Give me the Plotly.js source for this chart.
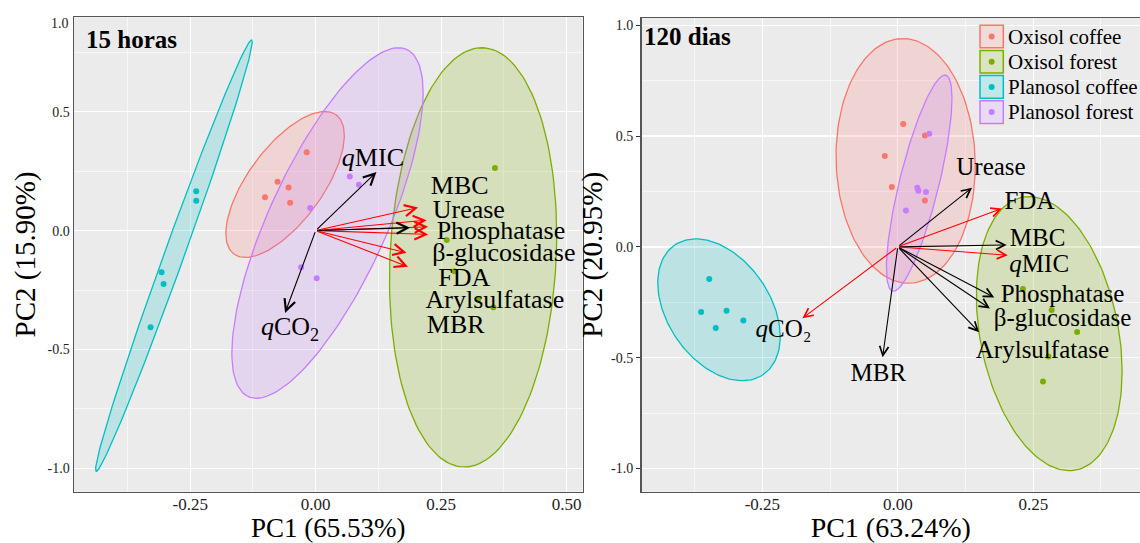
<!DOCTYPE html>
<html>
<head>
<meta charset="utf-8">
<script src="https://cdn.plot.ly/plotly-3.0.1.min.js"></script>
<style>html,body{margin:0;padding:0;background:#fff;}#chart{width:1140px;height:543px;}</style>
</head>
<body>
<div id="chart"></div>
<script>
// ---------- groups ----------
var groups = ['Oxisol coffee', 'Oxisol forest', 'Planosol coffee', 'Planosol forest'];

// ---------- 15 horas : PCA scores ----------
var h15_oxCoffee_pc1 = [-0.018, -0.076, -0.054, -0.101, -0.051];
var h15_oxCoffee_pc2 = [0.329, 0.205, 0.181, 0.140, 0.117];
var h15_oxForest_pc1 = [0.357, 0.261, 0.276, 0.324, 0.354];
var h15_oxForest_pc2 = [0.263, -0.039, -0.171, -0.288, -0.322];
var h15_plCoffee_pc1 = [-0.238, -0.238, -0.307, -0.303, -0.329];
var h15_plCoffee_pc2 = [0.165, 0.126, -0.175, -0.225, -0.406];
var h15_plForest_pc1 = [0.068, 0.086, -0.011, -0.029, 0.002];
var h15_plForest_pc2 = [0.227, 0.193, 0.095, -0.154, -0.200];

// 15 horas ellipses (centre, half-extent along PC1 / PC2, correlation), one per group
var h15_ell_cx = [-0.061, 0.3135, -0.2825, 0.0235];
var h15_ell_cy = [0.194, -0.1125, -0.1055, 0.032];
var h15_ell_hx = [0.118, 0.1665, 0.156, 0.1905];
var h15_ell_hy = [0.307, 0.8815, 0.907, 0.737];
var h15_ell_r  = [0.67, 0.105, 0.991, 0.743];

// 15 horas loadings (arrows)
var h15_vars     = ['MBC', 'Urease', 'Phosphatase', 'β-glucosidase', 'FDA', 'Arylsulfatase', 'MBR', 'qMIC', 'qCO2'];
var h15_load_pc1 = [0.204, 0.221, 0.224, 0.224, 0.188, 0.181, 0.184, 0.121, -0.061];
var h15_load_pc2 = [0.097, 0.044, 0.016, -0.016, 0.012, -0.093, -0.152, 0.246, -0.346];
var h15_sig      = [true, true, true, true, false, true, true, false, false];
// 15 horas variable labels
var h15_labels   = ['MBC', 'Urease', 'Phosphatase', 'β-glucosidase', 'FDA', 'Arylsulfatase', 'MBR', '<i>q</i>MIC', '<i>q</i>CO<sub>2</sub>'];
var h15_lab_pc1  = [0.287, 0.305, 0.369, 0.375, 0.296, 0.357, 0.279, 0.114, -0.051];
var h15_lab_pc2  = [0.183, 0.082, -0.010, -0.102, -0.205, -0.300, -0.402, 0.301, -0.412];

// ---------- 120 dias : PCA scores ----------
var d120_oxCoffee_pc1 = [0.010, 0.050, -0.024, -0.011, 0.050];
var d120_oxCoffee_pc2 = [0.555, 0.503, 0.410, 0.270, 0.209];
var d120_oxForest_pc1 = [0.231, 0.284, 0.331, 0.278, 0.268];
var d120_oxForest_pc2 = [-0.190, -0.285, -0.384, -0.495, -0.608];
var d120_plCoffee_pc1 = [-0.348, -0.363, -0.316, -0.336, -0.285];
var d120_plCoffee_pc2 = [-0.145, -0.294, -0.288, -0.366, -0.332];
var d120_plForest_pc1 = [0.058, 0.036, 0.038, 0.052, 0.015];
var d120_plForest_pc2 = [0.511, 0.267, 0.253, 0.248, 0.164];

var d120_ell_cx = [0.0145, 0.2795, -0.330, 0.0395];
var d120_ell_cy = [0.388, -0.3915, -0.284, 0.2875];
var d120_ell_hx = [0.1285, 0.1345, 0.113, 0.0605];
var d120_ell_hy = [0.552, 0.6185, 0.320, 0.4875];
var d120_ell_r  = [-0.04, -0.275, -0.38, 0.785];

var d120_vars     = ['Urease', 'FDA', 'MBC', 'qMIC', 'Phosphatase', 'β-glucosidase', 'Arylsulfatase', 'MBR', 'qCO2'];
var d120_load_pc1 = [0.137, 0.192, 0.201, 0.203, 0.178, 0.170, 0.150, -0.028, -0.176];
var d120_load_pc2 = [0.267, 0.173, 0.009, -0.038, -0.228, -0.278, -0.385, -0.498, -0.322];
var d120_sig      = [false, true, false, true, false, false, false, false, true];
var d120_labels   = ['Urease', 'FDA', 'MBC', '<i>q</i>MIC', 'Phosphatase', 'β-glucosidase', 'Arylsulfatase', 'MBR', '<i>q</i>CO₂'];
var d120_lab_pc1  = [0.172, 0.243, 0.258, 0.261, 0.304, 0.304, 0.267, -0.036, -0.211];
var d120_lab_pc2  = [0.351, 0.198, 0.033, -0.085, -0.220, -0.330, -0.472, -0.577, -0.377];

// ---------- ticks ----------
var h15_xtick_vals = [-0.25, 0, 0.25, 0.5];
var h15_xtick_text = ['-0.25', '0.00', '0.25', '0.50'];
var h15_ytick_vals = [-1, -0.5, 0, 0.5];
var h15_ytick_text = ['-1.0', '-0.5', '0.0', '0.5'];
var h15_top_label = '1.0';
var h15_top_label_pos = 0.871;
var d120_xtick_vals = [-0.25, 0, 0.25];
var d120_xtick_text = ['-0.25', '0.00', '0.25'];
var d120_ytick_vals = [-1, -0.5, 0, 0.5, 1];
var d120_ytick_text = ['-1.0', '-0.5', '0.0', '0.5', '1.0'];

// ---------- styling ----------
var colors = ['#F8766D', '#7CAE00', '#00BFC4', '#C77CFF'];
var SERIF = 'Liberation Serif, Times New Roman, serif';
var W = 1140, H = 543;

function rgba(hex, a) {
  var n = parseInt(hex.slice(1), 16);
  return 'rgba(' + ((n >> 16) & 255) + ',' + ((n >> 8) & 255) + ',' + (n & 255) + ',' + a + ')';
}
function ellipse(cx, cy, hx, hy, r) {
  var xs = [], ys = [], s = Math.sqrt(1 - r * r);
  for (var i = 0; i <= 160; i++) {
    var t = 2 * Math.PI * i / 160;
    xs.push(cx + hx * Math.cos(t));
    ys.push(cy + hy * (r * Math.cos(t) + s * Math.sin(t)));
  }
  return {x: xs, y: ys};
}

var traces = [];
function addPanel(xa, ya, ell, scores, lab, labSize) {
  for (var g = 0; g < 4; g++) {
    var e = ellipse(ell.cx[g], ell.cy[g], ell.hx[g], ell.hy[g], ell.r[g]);
    traces.push({type: 'scatter', mode: 'lines', x: e.x, y: e.y, xaxis: xa, yaxis: ya,
      fill: 'toself', fillcolor: rgba(colors[g], 0.2), line: {color: colors[g], width: 1.3},
      hoverinfo: 'skip', showlegend: false, name: groups[g]});
  }
  for (var g2 = 0; g2 < 4; g2++) {
    traces.push({type: 'scatter', mode: 'markers', x: scores[g2][0], y: scores[g2][1], xaxis: xa, yaxis: ya,
      marker: {color: colors[g2], size: 6}, showlegend: false, name: groups[g2]});
  }
  traces.push({type: 'scatter', mode: 'text', x: lab.x, y: lab.y, text: lab.text, xaxis: xa, yaxis: ya,
    textposition: 'middle center', textfont: {family: SERIF, size: labSize, color: '#000'},
    hoverinfo: 'skip', showlegend: false});
}

addPanel('x', 'y',
  {cx: h15_ell_cx, cy: h15_ell_cy, hx: h15_ell_hx, hy: h15_ell_hy, r: h15_ell_r},
  [[h15_oxCoffee_pc1, h15_oxCoffee_pc2], [h15_oxForest_pc1, h15_oxForest_pc2],
   [h15_plCoffee_pc1, h15_plCoffee_pc2], [h15_plForest_pc1, h15_plForest_pc2]],
  {x: h15_lab_pc1, y: h15_lab_pc2, text: h15_labels}, 26);
addPanel('x2', 'y2',
  {cx: d120_ell_cx, cy: d120_ell_cy, hx: d120_ell_hx, hy: d120_ell_hy, r: d120_ell_r},
  [[d120_oxCoffee_pc1, d120_oxCoffee_pc2], [d120_oxForest_pc1, d120_oxForest_pc2],
   [d120_plCoffee_pc1, d120_plCoffee_pc2], [d120_plForest_pc1, d120_plForest_pc2]],
  {x: d120_lab_pc1, y: d120_lab_pc2, text: d120_labels}, 25);

var annotations = [];
function addArrows(xs, ys, sig, xr, yr, size) {
  for (var i = 0; i < xs.length; i++) {
    annotations.push({x: xs[i], y: ys[i], ax: 0, ay: 0, xref: xr, yref: yr, axref: xr, ayref: yr,
      text: '', showarrow: true, arrowhead: 5, arrowsize: size, arrowwidth: 1.1,
      arrowcolor: sig[i] ? '#FF0000' : '#000000', standoff: 0, startstandoff: 0});
  }
}
addArrows(h15_load_pc1, h15_load_pc2, h15_sig, 'x', 'y', 2.0);
addArrows(d120_load_pc1, d120_load_pc2, d120_sig, 'x2', 'y2', 1.6);

// panel titles
annotations.push({text: '<b>15 horas</b>', xref: 'paper', yref: 'paper', x: 84 / W, y: 1 - 39 / H,
  xanchor: 'left', yanchor: 'middle', showarrow: false, font: {family: SERIF, size: 25, color: '#000'}});
annotations.push({text: '<b>120 dias</b>', xref: 'paper', yref: 'paper', x: 642 / W, y: 1 - 36 / H,
  xanchor: 'left', yanchor: 'middle', showarrow: false, font: {family: SERIF, size: 25, color: '#000'}});
// top tick label of the left panel as drawn in the figure
annotations.push({text: h15_top_label, xref: 'paper', yref: 'y', x: 71 / W, y: h15_top_label_pos,
  xanchor: 'right', yanchor: 'middle', showarrow: false, font: {family: SERIF, size: 14, color: '#222'}});

// legend (drawn inside the right panel)
var shapes = [];
var legTop = 36.5, legPitch = 25.2, boxX0 = 980, boxX1 = 1003.3, boxHalf = 11.3;
for (var g = 0; g < 4; g++) {
  var cyPx = legTop + g * legPitch;
  shapes.push({type: 'rect', xref: 'paper', yref: 'paper', x0: boxX0 / W, x1: boxX1 / W,
    y0: 1 - (cyPx + boxHalf) / H, y1: 1 - (cyPx - boxHalf) / H, fillcolor: '#F2F2F2', line: {width: 0}});
  shapes.push({type: 'rect', xref: 'paper', yref: 'paper', x0: boxX0 / W, x1: boxX1 / W,
    y0: 1 - (cyPx + boxHalf) / H, y1: 1 - (cyPx - boxHalf) / H, fillcolor: rgba(colors[g], 0.2),
    line: {color: colors[g], width: 1.5}});
  var dx = (boxX0 + boxX1) / 2;
  shapes.push({type: 'circle', xref: 'paper', yref: 'paper', x0: (dx - 3) / W, x1: (dx + 3) / W,
    y0: 1 - (cyPx + 3) / H, y1: 1 - (cyPx - 3) / H, fillcolor: colors[g], line: {width: 0}});
  annotations.push({text: groups[g], xref: 'paper', yref: 'paper', x: 1006 / W, y: 1 - cyPx / H,
    xanchor: 'left', yanchor: 'middle', showarrow: false, font: {family: SERIF, size: 21, color: '#000'}});
}

function axisBase() {
  return {showgrid: true, gridcolor: '#FFFFFF', gridwidth: 1.3, zeroline: false,
    showline: true, linecolor: '#555555', linewidth: 1.5, automargin: false,
    tickmode: 'array', tickfont: {family: SERIF, size: 14, color: '#222'}, fixedrange: true};
}
var xa1 = axisBase();
Object.assign(xa1, {domain: [74 / W, 582.6 / W], range: [-0.4815, 0.5317], anchor: 'y',
  tickvals: h15_xtick_vals, ticktext: h15_xtick_text, mirror: true, ticks: '', ticklabelstandoff: -4,
  tickfont: {family: SERIF, size: 17, color: '#222'},
  minor: {tickmode: 'linear', tick0: 0.125, dtick: 0.25, showgrid: true, gridcolor: '#FFFFFF', gridwidth: 0.6, ticks: ''},
  title: {text: 'PC1 (65.53%)', font: {family: SERIF, size: 27, color: '#000'}, standoff: 12}});
var ya1 = axisBase();
Object.assign(ya1, {domain: [1 - 491.7 / H, 1 - 17.3 / H], range: [-1.098, 0.897], anchor: 'x',
  tickvals: h15_ytick_vals, ticktext: h15_ytick_text, mirror: true, ticks: '',
  minor: {tickmode: 'linear', tick0: 0.25, dtick: 0.5, showgrid: true, gridcolor: '#FFFFFF', gridwidth: 0.6, ticks: ''},
  title: {text: 'PC2 (15.90%)', font: {family: SERIF, size: 29, color: '#000'}, standoff: 3}});
var xa2 = axisBase();
Object.assign(xa2, {domain: [641.5 / W, 1], range: [-0.473, 0.447], anchor: 'y2',
  tickvals: d120_xtick_vals, ticktext: d120_xtick_text, mirror: true, ticks: '', ticklabelstandoff: -4,
  tickfont: {family: SERIF, size: 17, color: '#222'},
  minor: {tickmode: 'linear', tick0: 0.125, dtick: 0.25, showgrid: true, gridcolor: '#FFFFFF', gridwidth: 0.6, ticks: ''},
  title: {text: 'PC1 (63.24%)', font: {family: SERIF, size: 28, color: '#000'}, standoff: 11}});
var ya2 = axisBase();
Object.assign(ya2, {domain: [1 - 491.7 / H, 1 - 18 / H], range: [-1.105, 1.033], anchor: 'x2',
  tickvals: d120_ytick_vals, ticktext: d120_ytick_text, mirror: false, ticks: 'outside', ticklen: 4,
  tickcolor: '#333', tickwidth: 1,
  minor: {tickmode: 'linear', tick0: 0.25, dtick: 0.5, showgrid: true, gridcolor: '#FFFFFF', gridwidth: 0.6, ticks: ''},
  title: {text: 'PC2 (20.95%)', font: {family: SERIF, size: 29, color: '#000'}, standoff: 0}});

var layout = {
  width: W, height: H, margin: {l: 0, r: 0, t: 0, b: 0},
  paper_bgcolor: '#FFFFFF', plot_bgcolor: '#EBEBEB', showlegend: false,
  xaxis: xa1, yaxis: ya1, xaxis2: xa2, yaxis2: ya2,
  annotations: annotations, shapes: shapes, font: {family: SERIF}
};
Plotly.newPlot('chart', traces, layout, {displayModeBar: false, staticPlot: true});
</script>
</body>
</html>
